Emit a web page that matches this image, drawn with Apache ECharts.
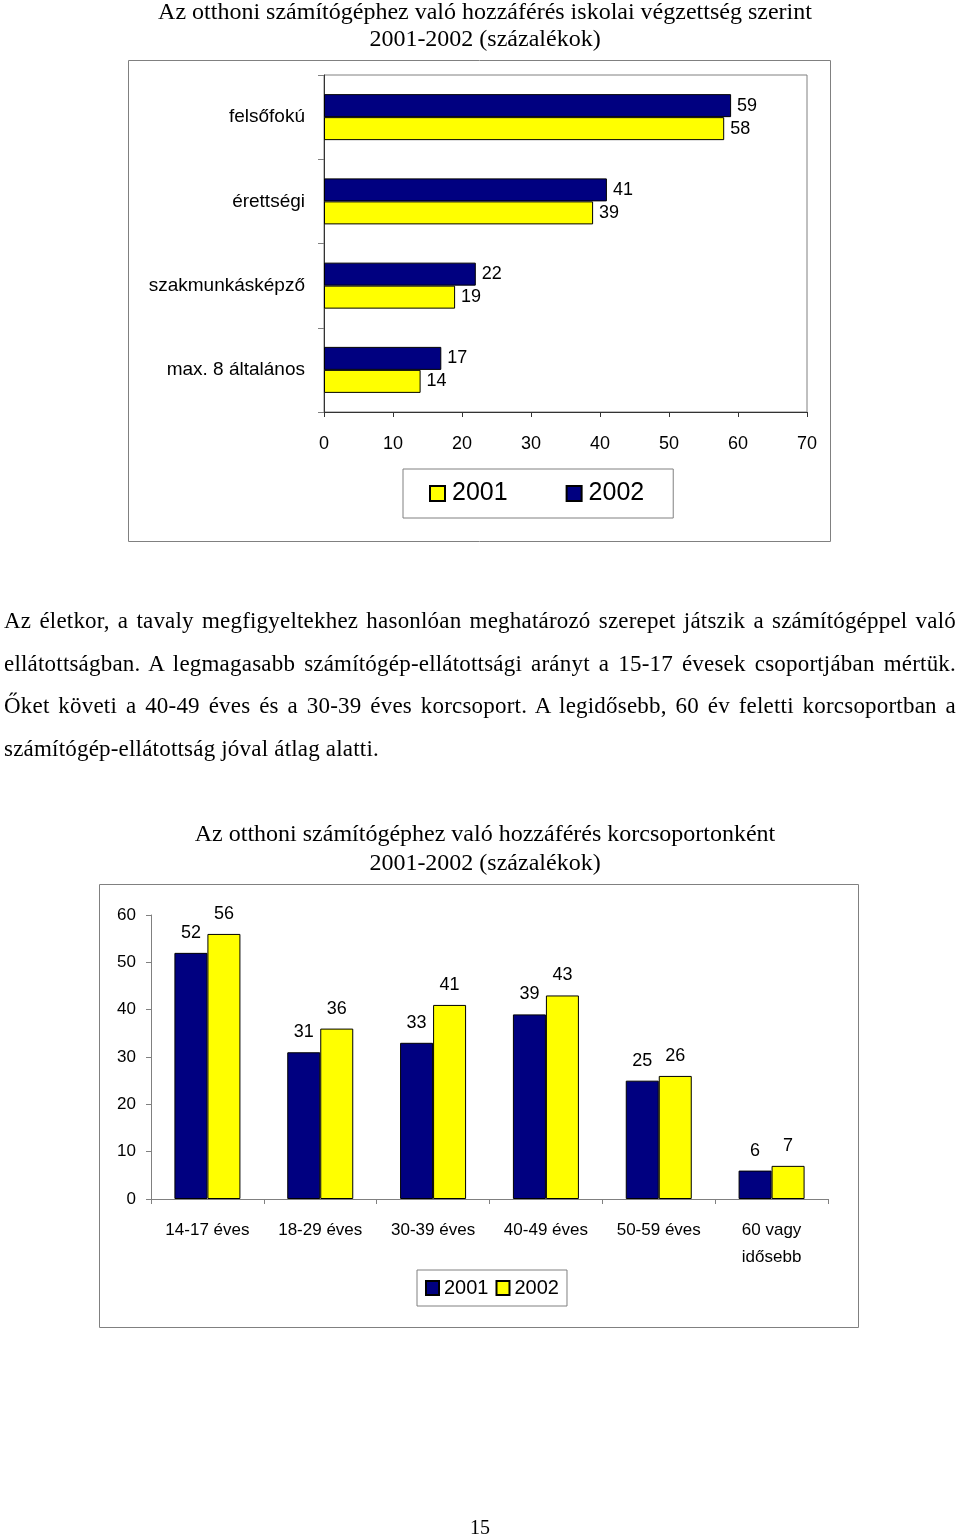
<!DOCTYPE html>
<html><head><meta charset="utf-8">
<script src="https://cdn.jsdelivr.net/npm/echarts@6/dist/echarts.min.js"></script>
<style>
html,body{margin:0;padding:0;background:#fff;}
#chart{position:absolute;left:0;top:0;width:960px;height:1537px;}
#para{position:absolute;left:4px;top:600px;width:952px;font-family:"Liberation Serif","DejaVu Serif",serif;font-size:23px;letter-spacing:0.2px;line-height:42.7px;color:#000;}
#para div{white-space:nowrap;text-align:justify;text-align-last:justify;}
#para div.last{text-align-last:left;}
#pnum{position:absolute;left:0;width:960px;top:1516px;text-align:center;font-family:"Liberation Serif",serif;font-size:20px;}
</style></head>
<body>
<div id="chart"></div>
<div id="para">
<div>Az életkor, a tavaly megfigyeltekhez hasonlóan meghatározó szerepet játszik a számítógéppel való</div>
<div>ellátottságban. A legmagasabb számítógép-ellátottsági arányt a 15-17 évesek csoportjában mértük.</div>
<div>Őket követi a 40-49 éves és a 30-39 éves korcsoport. A legidősebb, 60 év feletti korcsoportban a</div>
<div class="last">számítógép-ellátottság jóval átlag alatti.</div>
</div>
<div id="pnum">15</div>
<script>
// Chart 1 data
const eduCategories = ['felsőfokú', 'érettségi', 'szakmunkásképző', 'max. 8 általános'];
const edu2001 = [58, 39, 19, 14];
const edu2002 = [59, 41, 22, 17];
const eduTicks = [0, 10, 20, 30, 40, 50, 60, 70];
// Chart 2 data
const ageCategories = ['14-17 éves', '18-29 éves', '30-39 éves', '40-49 éves', '50-59 éves', '60 vagy\nidősebb'];
const age2001 = [52, 31, 33, 39, 25, 6];
const age2002 = [56, 36, 41, 43, 26, 7];
const ageTicks = [0, 10, 20, 30, 40, 50, 60];
const years = ['2001', '2002'];

const NAVY = '#000080', YELLOW = '#ffff00';
const SANS = '"Liberation Sans",Arial,sans-serif';
const SERIF = '"Liberation Serif","DejaVu Serif",serif';

const chart = echarts.init(document.getElementById('chart'), null, {renderer: 'canvas'});
chart.setOption({
  animation: false,
  title: [
    {text: 'Az otthoni számítógéphez való hozzáférés iskolai végzettség szerint\n2001-2002 (százalékok)',
     left: 480, top: -6, textAlign: 'center',
     textStyle: {fontFamily: SERIF, fontSize: 24, fontWeight: 'normal', color: '#000', lineHeight: 27}},
    {text: 'Az otthoni számítógéphez való hozzáférés korcsoportonként\n2001-2002 (százalékok)',
     left: 480, top: 815, textAlign: 'center',
     textStyle: {fontFamily: SERIF, fontSize: 24, fontWeight: 'normal', color: '#000', lineHeight: 29}}
  ],
  graphic: [
    {type: 'rect', shape: {x: 128.5, y: 60.5, width: 702, height: 481}, style: {fill: 'none', stroke: '#808080', lineWidth: 1}, silent: true},
    {type: 'rect', shape: {x: 99.5, y: 884.5, width: 759, height: 443}, style: {fill: 'none', stroke: '#808080', lineWidth: 1}, silent: true}
  ],
  legend: [
    {data: [years[0], years[1]], left: 403, top: 469,
     itemWidth: 15, itemHeight: 15, itemGap: 58,
     padding: [12, 29, 12, 26], borderColor: '#808080', borderWidth: 1,
     icon: 'rect', textStyle: {fontFamily: SANS, fontSize: 25, color: '#000', padding: [0, 0, 0, 2]}},
    {data: [years[0] + ' ', years[1] + ' '], left: 417, top: 1270,
     itemWidth: 13, itemHeight: 14, itemGap: 7,
     padding: [8, 8, 8, 8], borderColor: '#808080', borderWidth: 1,
     formatter: function (n) { return n.trim(); },
     icon: 'rect', textStyle: {fontFamily: SANS, fontSize: 20, color: '#000'}}
  ],
  grid: [
    {left: 324, top: 75, width: 483, height: 337, show: true, borderColor: '#808080', borderWidth: 1, backgroundColor: 'transparent'},
    {left: 151, top: 915, width: 677, height: 284}
  ],
  xAxis: [
    {gridIndex: 0, type: 'value', min: eduTicks[0], max: eduTicks[eduTicks.length - 1], interval: 10,
     splitLine: {show: false},
     axisLine: {show: true, lineStyle: {color: '#333', width: 1}},
     axisTick: {show: true, length: 5, lineStyle: {color: '#333'}},
     axisLabel: {fontFamily: SANS, fontSize: 18, color: '#000', margin: 23}},
    {gridIndex: 1, type: 'category', data: ageCategories,
     axisLine: {show: true, lineStyle: {color: '#808080'}},
     axisTick: {show: true, length: 5, alignWithLabel: false, lineStyle: {color: '#808080'}},
     axisLabel: {fontFamily: SANS, fontSize: 17, color: '#000', margin: 18, lineHeight: 27, interval: 0}}
  ],
  yAxis: [
    {gridIndex: 0, type: 'category', data: eduCategories, inverse: true,
     axisLine: {show: true, lineStyle: {color: '#333'}},
     axisTick: {show: true, length: 6, lineStyle: {color: '#808080'}},
     axisLabel: {fontFamily: SANS, fontSize: 19, color: '#000', margin: 19}},
    {gridIndex: 1, type: 'value', min: ageTicks[0], max: ageTicks[ageTicks.length - 1], interval: 10,
     splitLine: {show: false},
     axisLine: {show: true, lineStyle: {color: '#808080'}},
     axisTick: {show: true, length: 5, lineStyle: {color: '#808080'}},
     axisLabel: {fontFamily: SANS, fontSize: 17, color: '#000', margin: 15}}
  ],
  series: [
    {name: years[1], type: 'bar', xAxisIndex: 0, yAxisIndex: 0, data: edu2002, barWidth: 23, barGap: '0%',
     itemStyle: {color: NAVY, borderColor: '#000', borderWidth: 1},
     label: {show: true, position: 'right', distance: 6, fontFamily: SANS, fontSize: 18, color: '#000'}},
    {name: years[0], type: 'bar', xAxisIndex: 0, yAxisIndex: 0, data: edu2001, barWidth: 23, barGap: '0%',
     itemStyle: {color: YELLOW, borderColor: '#000', borderWidth: 1},
     label: {show: true, position: 'right', distance: 6, fontFamily: SANS, fontSize: 18, color: '#000'}},
    {name: years[0] + ' ', type: 'bar', xAxisIndex: 1, yAxisIndex: 1, data: age2001, barWidth: 33, barGap: '0%',
     itemStyle: {color: NAVY, borderColor: '#000', borderWidth: 1},
     label: {show: true, position: 'top', distance: 11, fontFamily: SANS, fontSize: 18, color: '#000'}},
    {name: years[1] + ' ', type: 'bar', xAxisIndex: 1, yAxisIndex: 1, data: age2002, barWidth: 33, barGap: '0%',
     itemStyle: {color: YELLOW, borderColor: '#000', borderWidth: 1},
     label: {show: true, position: 'top', distance: 11, fontFamily: SANS, fontSize: 18, color: '#000'}}
  ]
});
</script>
</body></html>
